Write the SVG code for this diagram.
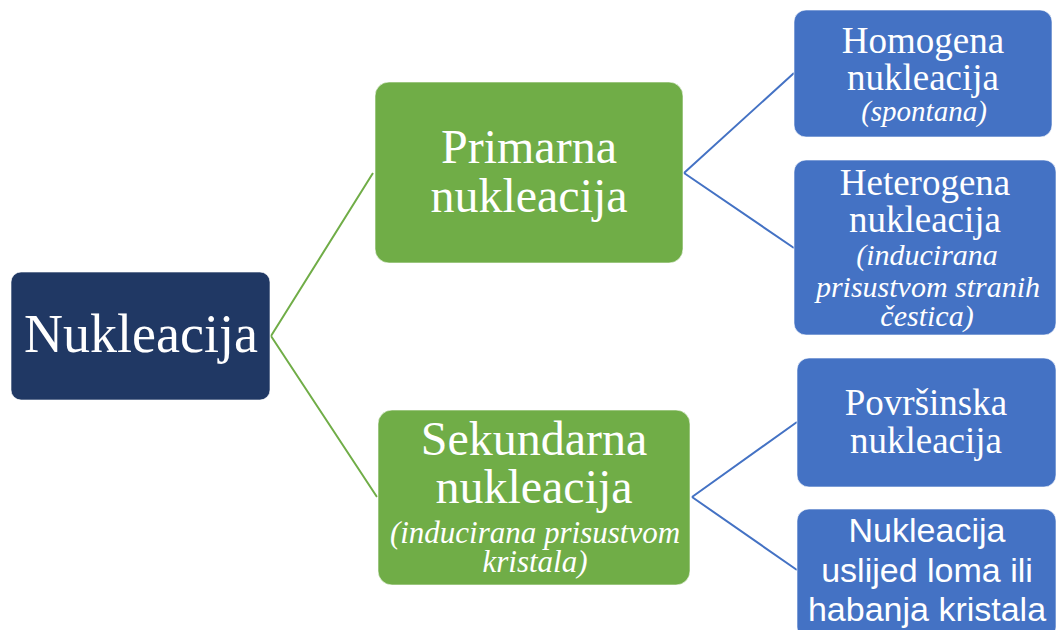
<svg xmlns="http://www.w3.org/2000/svg" width="1056" height="630" viewBox="0 0 1056 630">
<style>
.serif{font-family:"Liberation Serif","Times New Roman",serif;fill:#fff;text-anchor:middle}
.it{font-style:italic}
.sans{font-family:"Liberation Sans",Arial,sans-serif;fill:#fff;text-anchor:middle}
.box{stroke:#fff;stroke-opacity:0.6;stroke-width:1}
.g{fill:#70AD47}
.b{fill:#4472C4}
.cg{stroke:#70AD47;stroke-width:2;fill:none}
.cb{stroke:#4472C4;stroke-width:2;fill:none}
</style>
<rect width="1056" height="630" fill="#fff"/>
<g id="connectors">
<path class="cg" d="M271,336 L373,173 M271,336 L377,497"/>
<path class="cb" d="M684,173 L794,73 M684,173 L794,248 M692,497 L797,422 M692,497 L797,570"/>
</g>
<g id="root">
<rect class="box" x="11" y="272" width="259" height="128" rx="10" fill="#203864"/>
<text class="serif" x="141" y="352" font-size="54">Nukleacija</text>
</g>
<g id="primarna">
<rect class="box g" x="375" y="82" width="308" height="181" rx="14"/>
<text class="serif" font-size="48"><tspan x="529" y="163">Primarna</tspan><tspan x="529" y="212">nukleacija</tspan></text>
</g>
<g id="sekundarna">
<rect class="box g" x="378" y="410" width="312" height="175" rx="14"/>
<text class="serif" font-size="48"><tspan x="534" y="455">Sekundarna</tspan><tspan x="534" y="503">nukleacija</tspan></text>
<text class="serif it" font-size="31"><tspan x="535" y="543">(inducirana prisustvom</tspan><tspan x="535" y="572">kristala)</tspan></text>
</g>
<g id="homogena">
<rect class="box b" x="794" y="10" width="258" height="127" rx="12"/>
<text class="serif" font-size="37"><tspan x="923" y="53">Homogena</tspan><tspan x="923" y="90">nukleacija</tspan></text>
<text class="serif it" font-size="29" x="924" y="121">(spontana)</text>
</g>
<g id="heterogena">
<rect class="box b" x="794" y="160" width="262" height="175" rx="12"/>
<text class="serif" font-size="37"><tspan x="925" y="195">Heterogena</tspan><tspan x="925" y="232">nukleacija</tspan></text>
<text class="serif it" font-size="30"><tspan x="927" y="265">(inducirana</tspan><tspan x="928" y="297">prisustvom stranih</tspan><tspan x="927" y="326">čestica)</tspan></text>
</g>
<g id="povrsinska">
<rect class="box b" x="797" y="358" width="259" height="129" rx="12"/>
<text class="serif" font-size="37"><tspan x="926" y="415">Površinska</tspan><tspan x="926" y="453">nukleacija</tspan></text>
</g>
<g id="lom">
<rect class="box b" x="797" y="509" width="259" height="130" rx="12"/>
<text class="sans" font-size="34"><tspan x="927" y="542">Nukleacija</tspan><tspan x="927" y="582">uslijed loma ili</tspan><tspan x="927" y="621">habanja kristala</tspan></text>
</g>
</svg>
